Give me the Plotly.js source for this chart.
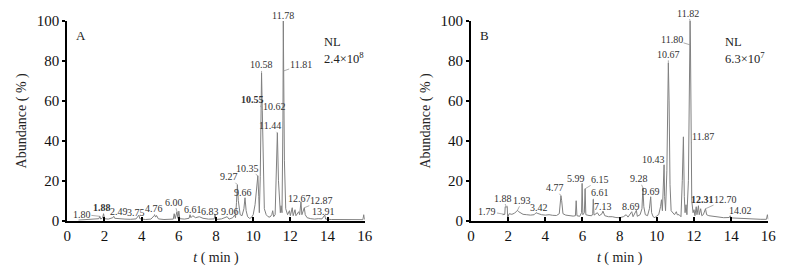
<!DOCTYPE html>
<html>
<head>
<meta charset="utf-8">
<script src="https://cdn.plot.ly/plotly-3.0.1.min.js"></script>
<style>html,body{margin:0;padding:0;background:#fff;}#chart{width:792px;height:267px;}</style>
</head>
<body>
<div id="chart"></div>
<script>
// ---------------- DATA ----------------
// Panel A chromatogram (time in min, relative abundance %)
var timeA = [0.6,1.2,1.5,1.7,1.75,1.8,1.9,1.95,2.0,2.2,2.45,2.5,2.55,2.8,3.1,3.4,3.7,3.85,3.9,4.2,4.5,4.7,4.75,4.8,4.9,5.2,5.5,5.7,5.75,5.8,5.9,5.95,6.0,6.05,6.3,6.55,6.6,6.65,6.75,6.9,7.1,7.3,7.6,7.9,7.95,8.0,8.3,8.5,8.6,8.7,8.9,9.0,9.05,9.1,9.15,9.2,9.3,9.4,9.5,9.56,9.62,9.7,9.8,9.9,10.0,10.1,10.2,10.25,10.3,10.33,10.38,10.43,10.45,10.49,10.54,10.6,10.7,10.8,10.9,11.0,11.05,11.1,11.18,11.25,11.3,11.36,11.42,11.46,11.5,11.55,11.6,11.62,11.64,11.68,11.75,11.85,11.95,12.0,12.1,12.15,12.25,12.3,12.45,12.5,12.57,12.62,12.75,12.8,12.9,13.1,13.3,13.5,13.7,13.85,13.9,14.2,14.6,15.0,15.5,15.9,15.95,16.0];
var abundA = [0.3,0.5,0.6,1.0,2.2,0.8,1.5,3.5,1.0,0.8,1.5,2.2,1.2,0.9,0.8,0.7,0.9,2.8,1.0,0.6,0.8,2.8,1.8,2.6,0.9,0.6,0.6,0.8,3.5,1.0,4.5,1.2,4.8,1.0,0.8,1.2,3.0,1.5,2.5,1.5,2.0,1.2,0.8,0.9,3.2,0.6,0.9,1.5,2.0,0.8,1.5,2.8,1.5,9,18,10,3,2.5,6,11.5,5,2,1.2,1.5,3,8,20,22.5,12,4,22,57,74,55,20,6,3,2,1.8,3,5,2,3,22,44,20,4.5,4,7.5,4,50,100,75,30,6,3,5,2.5,6.5,2.5,5.5,2.5,4.5,3,9.5,3,6.5,3,1.5,1,0.8,1,0.9,2.8,0.8,0.6,0.5,0.5,0.5,0.5,3,0.5];

// Panel B chromatogram
var timeB = [1.7,1.82,1.84,1.9,1.95,1.97,2.05,2.2,2.35,2.45,2.5,2.55,2.65,2.8,3.0,3.2,3.4,3.5,3.6,3.8,4.0,4.2,4.4,4.6,4.75,4.8,4.84,4.88,4.95,5.1,5.3,5.5,5.62,5.66,5.7,5.85,5.95,5.98,6.02,6.1,6.14,6.18,6.35,6.5,6.55,6.58,6.62,6.8,6.9,7.05,7.1,7.2,7.4,7.6,7.8,8.0,8.2,8.35,8.45,8.6,8.65,8.72,8.85,8.9,8.95,9.1,9.2,9.25,9.3,9.38,9.5,9.6,9.67,9.72,9.8,9.9,10.0,10.1,10.2,10.25,10.3,10.36,10.39,10.42,10.47,10.54,10.59,10.62,10.66,10.71,10.77,10.85,10.95,11.05,11.1,11.2,11.3,11.37,11.43,11.48,11.52,11.57,11.62,11.7,11.75,11.79,11.81,11.84,11.88,11.95,12.0,12.05,12.12,12.16,12.24,12.28,12.36,12.42,12.5,12.62,12.68,12.8,13.0,13.3,13.6,13.9,13.95,14.0,14.3,14.7,15.2,15.6,15.9,15.95,16.0];
var abundB = [3.0,3.2,7,6.8,7.2,1.5,3.5,3.2,3.8,4.5,5.2,4.6,4.0,3.2,3.0,2.8,3.0,4.0,3.6,3.0,2.8,3.0,2.7,2.6,3.5,11,12.5,10,3.5,2.8,2.5,2.3,2.5,10,2.5,2.2,4,18.7,3,4,16,3,2.6,2.5,3.5,10.7,2.8,4,2.5,3.5,4.8,2.5,2.0,2.0,1.6,1.5,2.0,3,1.8,3.5,4.5,2.0,4,5.2,2.2,3,6,16.5,7,3,2.5,6,12,4,2,1.5,2.5,3,7,10.5,5,20,28,12,5,25,70,79,60,18,5,4,3,4.5,3,3,2,20,42,12,4,8,3,20,70,100,88,39,10,4,5.5,2.5,7,3,7.5,3,6,2.5,3,6,3,2.5,2.2,1.8,1.5,1.6,2.5,1.4,1.2,1.0,0.8,0.7,0.7,3,0.7];

// Peak labels: text, peak time, peak abundance
var labelsA   = ['1.80','1.88','2.49','3.75','4.76','6.00','6.61','6.83','9.06','9.27','9.66','10.35','10.58','10.55','10.62','11.44','11.78','11.81','12.67','12.87','13.91'];
var peakTimeA = [1.75,1.95,2.5,3.85,4.7,5.9,6.6,7.95,9.0,9.15,9.56,10.25,10.45,10.44,10.49,11.3,11.62,11.64,12.57,12.75,13.85];
var peakAbA   = [2.2,3.5,2.2,2.8,2.8,4.5,3.0,3.2,2.8,18,11.5,22.5,74,57,55,44,100,75,9.5,6.5,2.8];
var boldA     = ['1.88','10.55'];

var labelsB   = ['1.79','1.88','1.93','3.42','4.77','5.99','6.15','6.61','7.13','8.69','9.28','9.69','10.43','10.67','11.80','11.82','11.87','12.31','12.70','14.02'];
var peakTimeB = [1.8,1.9,2.5,3.55,4.84,5.98,6.14,6.58,7.1,8.65,9.25,9.67,10.39,10.62,11.81,11.79,11.84,12.24,12.62,13.95];
var peakAbB   = [3.2,7,5.2,4.0,12.5,18.7,16,10.7,4.8,4.5,16.5,12,28,79,88,100,39,7.5,6,2.5];
var boldB     = ['12.31'];

var panelNames = ['A','B'];
var nlTitle = ['NL','NL'];
var nlValue = ['2.4×10<sup>8</sup>','6.3×10<sup>7</sup>'];
var xTickVals = [0,2,4,6,8,10,12,14,16];
var yTickVals = [0,20,40,60,80,100];

// ---------------- LAYOUT / STYLE ----------------
// label text offsets in pixels from the peak point (style/position)
var offA = [[-18,-2],[-2,-6],[5.5,-5],[-3,-3],[-1,-7],[-2.5,-9.5],[2.5,-5],[-5,-2.5],[-5,-4],[-8,-8],[-2,-5],[-10.5,-7.5],[0,-8],[-9,-7],[12,-4],[-7,-7],[0,-6],[17,-6],[-1,-3.5],[17,-7],[-1.5,-3.5]];
var offB = [[-17,-3],[-3.6,-8.7],[5,-10],[2,-5],[-6,-8],[-6,-5],[15,-9],[7,-6.6],[0,-5],[-1,-5],[-4,-9],[0,-5],[-11,-5.5],[0,-8.6],[-18.5,-5.7],[-2,-8],[12,-6],[4,-6],[20,-9],[10,-5]];

var FONT = 'Liberation Serif, Times New Roman, serif';
var traceColor = '#808080';

var traces = [
  {x: timeA, y: abundA, type:'scatter', mode:'lines', xaxis:'x', yaxis:'y',
   line:{color:traceColor, width:1}, hoverinfo:'skip', cliponaxis:false},
  {x: timeB, y: abundB, type:'scatter', mode:'lines', xaxis:'x2', yaxis:'y2',
   line:{color:traceColor, width:1}, hoverinfo:'skip', cliponaxis:false}
];

function xaxisDef(domain, anchor){
  return {domain:domain, anchor:anchor, range:[0,16], tickvals:xTickVals, ticks:'inside', ticklen:4, tickwidth:2,
    tickcolor:'#000', showline:true, linewidth:2, linecolor:'#000', showgrid:false, zeroline:false,
    tickfont:{family:FONT, size:15, color:'#111'},
    title:{text:'<i>t</i> ( min )', font:{family:FONT, size:14, color:'#222'}, standoff:9}};
}
function yaxisDef(domain, anchor){
  return {domain:domain, anchor:anchor, range:[0,100], tickvals:yTickVals, ticks:'outside', ticklen:3, tickwidth:2,
    tickcolor:'#000', showline:true, linewidth:2, linecolor:'#000', showgrid:false, zeroline:false,
    tickfont:{family:FONT, size:15, color:'#111'},
    title:{text:'Abundance ( % )', font:{family:FONT, size:14, color:'#222'}, standoff:7}};
}

var yDom = [0.1734, 0.9213];
var annotations = [];
function addLabels(labels, pt, pa, offs, bold, xr, yr){
  for (var i=0;i<labels.length;i++){
    var txt = bold.indexOf(labels[i])>=0 ? '<b>'+labels[i]+'</b>' : labels[i];
    annotations.push({x:pt[i], y:pa[i], xref:xr, yref:yr, text:txt, showarrow:true,
      arrowhead:0, arrowwidth:0.7, arrowcolor:'#8a8a8a', ax:offs[i][0], ay:offs[i][1], standoff:0,
      borderpad:0, font:{family:FONT, size:10, color:'#333'}});
  }
}
addLabels(labelsA, peakTimeA, peakAbA, offA, boldA, 'x', 'y');
addLabels(labelsB, peakTimeB, peakAbB, offB, boldB, 'x2', 'y2');

var nlPos = [[13.68,94],[13.58,94]];
['x','x2'].forEach(function(xr, k){
  var yr = k===0 ? 'y' : 'y2';
  annotations.push({x:0.35, y:97.5, xref:xr, yref:yr, text:panelNames[k], showarrow:false, xanchor:'left', yanchor:'top',
    font:{family:FONT, size:13, color:'#222'}});
  annotations.push({x:nlPos[k][0], y:nlPos[k][1], xref:xr, yref:yr, text:nlTitle[k], showarrow:false,
    xanchor:'left', yanchor:'top', font:{family:FONT, size:12.5, color:'#222'}});
  annotations.push({x:nlPos[k][0], y:nlPos[k][1]-7.5, xref:xr, yref:yr, text:nlValue[k], showarrow:false,
    xanchor:'left', yanchor:'top', font:{family:FONT, size:12.5, color:'#222'}});
});

var layout = {
  width:792, height:267, margin:{l:0,r:0,t:0,b:0}, showlegend:false,
  paper_bgcolor:'#fff', plot_bgcolor:'#fff',
  xaxis: xaxisDef([0.0850,0.4605],'y'),
  yaxis: yaxisDef(yDom,'x'),
  xaxis2: xaxisDef([0.5947,0.9701],'y2'),
  yaxis2: yaxisDef(yDom,'x2'),
  annotations: annotations
};

Plotly.newPlot('chart', traces, layout, {staticPlot:true, displayModeBar:false});
</script>
</body>
</html>
